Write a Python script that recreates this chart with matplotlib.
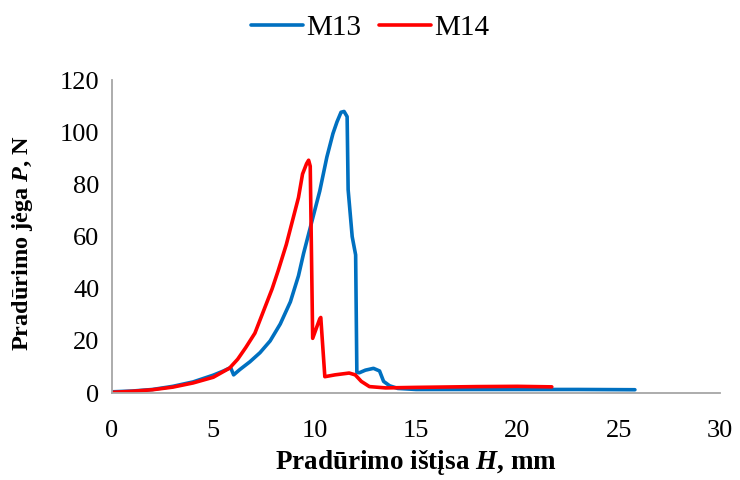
import matplotlib
matplotlib.use("Agg")
import matplotlib.pyplot as plt

# Puncture displacement H (mm) and puncture force P (N) for two samples
m13_h = [0, 1, 2, 3, 4, 5, 5.5, 5.85, 6.0, 6.3, 6.8, 7.3, 7.8, 8.3, 8.8, 9.2,
         9.45, 9.9, 10.25, 10.6, 10.9, 11.1, 11.3, 11.45, 11.6, 11.65, 11.85,
         12.02, 12.08, 12.2, 12.5, 12.9, 13.2, 13.4, 13.7, 14.1, 15, 17, 20,
         23, 25.8]
m13_p = [0.5, 0.8, 1.4, 2.6, 4.3, 6.9, 8.5, 9.8, 7.0, 9.0, 12, 15.5, 20, 26.5,
         35, 45, 53.5, 67, 77.5, 90.5, 99.5, 104, 107.7, 108, 106, 78, 60, 53,
         8, 7.8, 8.8, 9.5, 8.5, 4.5, 2.8, 1.8, 1.4, 1.4, 1.4, 1.4, 1.3]

m14_h = [0, 1, 2, 3, 4, 5, 5.8, 6.2, 6.6, 7.05, 7.4, 7.9, 8.2, 8.6, 8.9, 9.2,
         9.4, 9.6, 9.7, 9.78, 9.9, 10.25, 10.3, 10.5, 11, 11.7, 12.0, 12.3,
         12.7, 13.5, 15, 18, 20, 21.7]
m14_p = [0.3, 0.7, 1.3, 2.3, 3.9, 6.1, 9.6, 13, 17.5, 23, 30, 40, 47, 57, 66,
         75, 84, 88, 89.3, 87, 21, 28.5, 29, 6.3, 7, 7.7, 7, 4.5, 2.5, 2.0, 2.2,
         2.5, 2.6, 2.4]

x_ticks = [0, 5, 10, 15, 20, 25, 30]
y_ticks = [0, 20, 40, 60, 80, 100, 120]

plt.rcParams['font.family'] = ['Liberation Serif', 'DejaVu Serif']
plt.rcParams['mathtext.fontset'] = 'custom'
plt.rcParams['mathtext.rm'] = 'Liberation Serif'
plt.rcParams['mathtext.it'] = 'Liberation Serif:italic'
plt.rcParams['mathtext.bf'] = 'Liberation Serif:bold'
plt.rcParams['mathtext.bfit'] = 'Liberation Serif:italic:bold'

fig = plt.figure(figsize=(7.4, 4.8), dpi=100)
ax = fig.add_axes([0.1514, 0.181, 0.8216, 0.652])

l13, = ax.plot(m13_h, m13_p, color='#0070C0', lw=2.6, label='M13',
               solid_joinstyle='round', solid_capstyle='round')
l14, = ax.plot(m14_h, m14_p, color='#FF0000', lw=2.6, label='M14',
               solid_joinstyle='round', solid_capstyle='round')

ax.set_xlim(0, 30)
ax.set_ylim(0, 120)
ax.set_xticks(x_ticks)
ax.set_yticks(y_ticks)
ax.tick_params(length=0, labelsize=19, colors='black')
ax.tick_params(axis='x', pad=19)
ax.tick_params(axis='y', pad=9)

for side in ('top', 'right'):
    ax.spines[side].set_visible(False)
for side in ('left', 'bottom'):
    ax.spines[side].set_color('#a6a6a6')
    ax.spines[side].set_linewidth(1.3)

ax.set_xlabel('Pradūrimo ištįsa $\\mathbfit{H}$, mm', fontsize=19.5,
              fontweight='bold', labelpad=5)
ax.set_ylabel('Pradūrimo jėga $\\mathbfit{P}$, N', fontsize=17.5,
              fontweight='bold')
ax.yaxis.set_label_coords(-0.127, 0.48)

fig.legend(handles=[l13, l14], loc='center', bbox_to_anchor=(0.5, 0.942),
           ncol=2, frameon=False, fontsize=21, handlelength=1.8,
           handletextpad=0.1, columnspacing=0.6)

fig.savefig('out.png', dpi=100)
